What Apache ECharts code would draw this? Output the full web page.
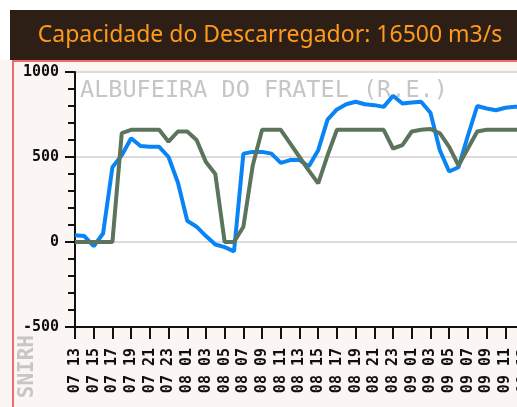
<!DOCTYPE html>
<html lang="pt">
<head>
<meta charset="utf-8">
<style>
  html, body { margin: 0; padding: 0; background: #ffffff; }
  #chart { width: 517px; height: 407px; }
</style>
</head>
<body>
<div id="chart"></div>
<script src="https://cdn.jsdelivr.net/npm/echarts@6/dist/echarts.min.js"></script>
<script>
// hourly samples, day + hour, from 07 13h to 09 13h
var horas = [
  '07 13', '07 14', '07 15', '07 16', '07 17', '07 18', '07 19', '07 20', '07 21', '07 22', '07 23',
  '08 00', '08 01', '08 02', '08 03', '08 04', '08 05', '08 06', '08 07', '08 08', '08 09', '08 10',
  '08 11', '08 12', '08 13', '08 14', '08 15', '08 16', '08 17', '08 18', '08 19', '08 20', '08 21',
  '08 22', '08 23', '09 00', '09 01', '09 02', '09 03', '09 04', '09 05', '09 06', '09 07', '09 08',
  '09 09', '09 10', '09 11', '09 12', '09 13'
];

// caudal afluente (azul)
var afluente = [
  40, 35, -25, 50, 440, 510, 610, 565, 560, 560, 500,
  350, 125, 90, 35, -15, -30, -55, 520, 530, 530, 520,
  465, 482, 482, 445, 540, 720, 780, 810, 825, 810, 805,
  795, 860, 815, 820, 825, 760, 540, 415, 440, 625, 800,
  785, 775, 790, 795, 795
];

// caudal efluente (verde)
var efluente = [
  0, 0, 0, 0, 0, 640, 660, 660, 660, 660, 590,
  650, 650, 600, 470, 400, 0, 0, 90, 450, 660, 660,
  660, 580, 500, 420, 345, 510, 660, 660, 660, 660, 660,
  660, 550, 570, 650, 660, 665, 640, 560, 450, 550, 650,
  660, 660, 660, 660, 660
];

var titulo = 'Capacidade do Descarregador: 16500 m3/s';
var albufeira = 'ALBUFEIRA DO FRATEL (R.E.)';

var chart = echarts.init(document.getElementById('chart'));

var monoFont = '"DejaVu Sans Mono", monospace';

var option = {
  backgroundColor: '#fbf6f4',
  animation: false,
  grid: {
    left: 75, right: -7, top: 72, bottom: 80,
    outerBoundsMode: 'none', containLabel: false,
    show: true, backgroundColor: '#ffffff', borderWidth: 0
  },
  graphic: [
    { type: 'rect', z: -10, shape: { x: 0, y: 0, width: 517, height: 60 }, style: { fill: '#ffffff' } },
    { type: 'rect', z: -9, shape: { x: 10, y: 10, width: 507, height: 50 }, style: { fill: '#2d1f15' } },
    { type: 'text', z: 10, x: 270, y: 35,
      style: { text: titulo, fill: '#ff9a1c', font: '23px "Noto Sans", sans-serif',
               textAlign: 'center', textVerticalAlign: 'middle' } },
    { type: 'rect', z: 5, shape: { x: 12, y: 60, width: 505, height: 2 }, style: { fill: '#f26a6a' } },
    { type: 'rect', z: 5, shape: { x: 12, y: 60, width: 2, height: 347 }, style: { fill: '#f26a6a' } },
    { type: 'text', z: 1, x: 80, y: 91,
      style: { text: albufeira, fill: '#c6c6c6', font: '23.5px ' + monoFont,
               textAlign: 'left', textVerticalAlign: 'middle' } },
    { type: 'text', z: 1, x: 28, y: 335, rotation: Math.PI / 2,
      style: { text: 'SNIRH', fill: '#c6c6c6', font: 'bold 21px ' + monoFont,
               textAlign: 'right', textVerticalAlign: 'middle' } }
  ],
  xAxis: {
    type: 'category',
    data: horas,
    boundaryGap: false,
    axisLine: { onZero: false, lineStyle: { color: '#111', width: 2 } },
    axisTick: { interval: 1, length: 12, lineStyle: { color: '#111', width: 2 } },
    axisLabel: {
      interval: 1, rotate: 90, margin: 21,
      color: '#111', fontFamily: monoFont, fontWeight: 'bold', fontSize: 15
    },
    splitLine: { show: false }
  },
  yAxis: {
    type: 'value',
    min: -500, max: 1000, interval: 500,
    axisLine: { show: true, lineStyle: { color: '#111', width: 2 } },
    axisTick: { show: true, length: 10, lineStyle: { color: '#111', width: 2 } },
    minorTick: { show: true, splitNumber: 5, length: 7, lineStyle: { color: '#111', width: 2 } },
    axisLabel: {
      margin: 16, color: '#111', fontFamily: monoFont, fontWeight: 'bold', fontSize: 15,
      formatter: function (v) { return String(v); }
    },
    splitLine: { show: true, lineStyle: { color: '#dcdcdc', width: 2 } }
  },
  series: [
    {
      name: 'Afluente', type: 'line', data: afluente, z: 3,
      showSymbol: false, lineStyle: { color: '#0a84f5', width: 4 },
      itemStyle: { color: '#0a84f5' }
    },
    {
      name: 'Efluente', type: 'line', data: efluente, z: 4,
      showSymbol: false, lineStyle: { color: '#5b745b', width: 4 },
      itemStyle: { color: '#5b745b' }
    }
  ]
};

chart.setOption(option);
</script>
</body>
</html>
